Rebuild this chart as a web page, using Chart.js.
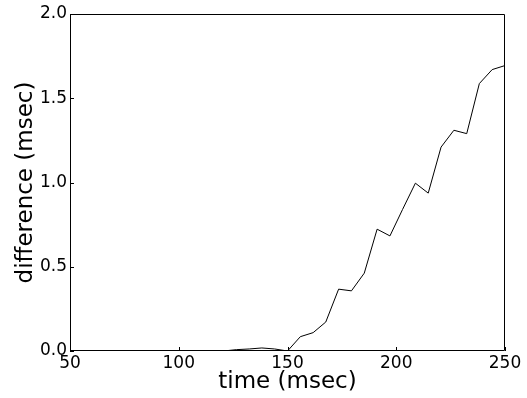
<!DOCTYPE html>
<html>
<head>
<meta charset="utf-8">
<script src="https://cdn.jsdelivr.net/npm/chart.js@4"></script>
<style>
html,body{margin:0;padding:0;background:#fff;}
#wrap{width:527px;height:398px;position:relative;}
</style>
</head>
<body>
<div id="wrap"><canvas id="c" width="527" height="398"></canvas></div>
<script>
// time (msec)
const times = [50, 55.9, 61.8, 67.6, 73.5, 79.4, 85.3, 91.2, 97.1, 102.9, 108.8, 114.7, 120.6, 126.5, 132.4, 138.2, 144.1, 150,
  155.9, 161.8, 167.6, 173.5, 179.4, 185.3, 191.2, 197.1, 202.9, 208.8, 214.7, 220.6, 226.5, 232.4, 238.2, 244.1, 250];
// difference (msec)
const differences = [0, 0, 0, 0, 0, 0, 0, 0, 0, 0, 0, 0, 0, 0.008, 0.012, 0.018, 0.012, 0,
  0.085, 0.109, 0.172, 0.367, 0.357, 0.462, 0.723, 0.683, 0.84, 0.996, 0.937, 1.21, 1.31, 1.29, 1.587, 1.67, 1.694];
const xTickValues = [50, 100, 150, 200, 250];
const yTickValues = [0.0, 0.5, 1.0, 1.5, 2.0];
const xTitle = 'time (msec)';
const yTitle = 'difference (msec)';

const FONT = "'DejaVu Sans'";
const framePlugin = {
  id: 'frame',
  afterDraw(chart) {
    const {ctx, chartArea: a, scales} = chart;
    ctx.save();
    ctx.strokeStyle = '#000';
    ctx.lineWidth = 1;
    ctx.beginPath();
    ctx.rect(a.left + 0.5, a.top + 0.5, a.right - a.left - 1, a.bottom - a.top - 1);
    ctx.stroke();
    ctx.beginPath();
    xTickValues.forEach(v => {
      const px = Math.round(scales.x.getPixelForValue(v)) + 0.5;
      ctx.moveTo(px, a.bottom);
      ctx.lineTo(px, a.bottom - 4);
    });
    yTickValues.forEach(v => {
      const py = Math.round(scales.y.getPixelForValue(v)) + 0.5;
      ctx.moveTo(a.left, py);
      ctx.lineTo(a.left + 4, py);
    });
    ctx.stroke();
    ctx.restore();
  }
};

new Chart(document.getElementById('c'), {
  type: 'line',
  data: {
    datasets: [{
      data: times.map((t, i) => ({x: t, y: differences[i]})),
      borderColor: '#000',
      borderWidth: 1,
      pointRadius: 0,
      tension: 0,
      fill: false
    }]
  },
  options: {
    responsive: false,
    animation: false,
    devicePixelRatio: 1,
    layout: {padding: {left: 0, right: 22, top: 14, bottom: 0}},
    plugins: {legend: {display: false}, tooltip: {enabled: false}},
    scales: {
      x: {
        type: 'linear', min: 50, max: 250,
        afterBuildTicks: s => { s.ticks = xTickValues.map(v => ({value: v})); },
        afterFit: s => { s.height = 47; },
        grid: {display: false, drawTicks: false},
        border: {display: false},
        ticks: {color: '#000', font: {family: FONT, size: 17, lineHeight: 1}, padding: 4, maxRotation: 0,
          callback: v => String(v)},
        title: {display: true, text: xTitle, color: '#000', font: {family: FONT, size: 23, lineHeight: 1}, padding: {top: 0, bottom: 4}}
      },
      y: {
        type: 'linear', min: 0, max: 2,
        afterBuildTicks: s => { s.ticks = yTickValues.map(v => ({value: v})); },
        afterFit: s => { s.width = 70; },
        grid: {display: false, drawTicks: false},
        border: {display: false},
        ticks: {color: '#000', font: {family: FONT, size: 17, lineHeight: 1}, padding: 3,
          callback: v => Number(v).toFixed(1)},
        title: {display: true, text: yTitle, color: '#000', font: {family: FONT, size: 23, lineHeight: 1}, padding: {top: 15, bottom: 0}}
      }
    }
  },
  plugins: [framePlugin]
});
</script>
</body>
</html>
